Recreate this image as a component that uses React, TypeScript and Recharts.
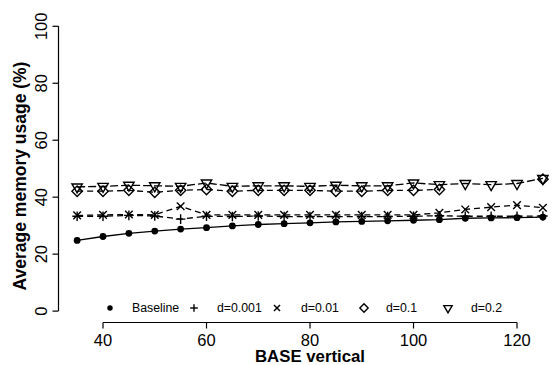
import React from 'react';
import { LineChart, Line, XAxis, YAxis, ReferenceLine, Legend } from 'recharts';

const xValues = [35, 40, 45, 50, 55, 60, 65, 70, 75, 80, 85, 90, 95, 100, 105, 110, 115, 120, 125];
const baseline = [24.8, 26.2, 27.3, 28.1, 28.8, 29.3, 29.9, 30.4, 30.7, 31.0, 31.3, 31.5, 31.7, 31.9, 32.1, 32.6, 32.7, 32.8, 33.0];
const d0001 = [33.3, 33.3, 33.6, 33.4, 32.3, 33.3, 33.2, 33.4, 33.2, 33.2, 33.2, 33.2, 33.2, 33.3, 33.5, 33.3, 33.3, 33.3, 33.4];
const d001 = [33.6, 33.8, 33.9, 33.8, 36.8, 33.8, 33.8, 33.8, 33.8, 33.8, 33.8, 33.8, 33.8, 33.8, 34.5, 35.7, 36.5, 37.2, 36.3];
const d01 = [42.1, 42.1, 42.4, 41.7, 42.4, 42.7, 42.1, 42.4, 42.4, 42.4, 42.1, 42.1, 42.4, 42.4, 42.7, null, null, null, 46.3];
const d02 = [43.6, 43.8, 44.2, 44.0, 43.8, 45.0, 43.8, 44.0, 44.0, 43.8, 44.2, 44.0, 44.0, 45.0, 44.4, 44.8, 44.4, 44.8, 46.6];

const seriesNames = ['Baseline', 'd=0.001', 'd=0.01', 'd=0.1', 'd=0.2'];
const seriesKeys = ['baseline', 'd0001', 'd001', 'd01', 'd02'];
const seriesShapes = ['dot', 'plus', 'cross', 'diamond', 'triangle'];
const seriesDash = [undefined, '6 4', '6 4', '6 4', '8 3'];

const xTicks = [40, 60, 80, 100, 120];
const yTicks = [0, 20, 40, 60, 80, 100];
const xLabel = 'BASE vertical';
const yLabel = 'Average memory usage (%)';

const data = xValues.map((x, i) => ({
  x,
  baseline: baseline[i],
  d0001: d0001[i],
  d001: d001[i],
  d01: d01[i],
  d02: d02[i],
}));

const FONT = '"Liberation Sans", Arial, Helvetica, sans-serif';

function Marker({ shape, cx, cy, s = 1 }: { shape: string; cx: number; cy: number; s?: number }) {
  const sw = 1.4;
  if (shape === 'dot') return <circle cx={cx} cy={cy} r={3.4 * s} fill="#000" stroke="none" />;
  if (shape === 'plus') {
    const h = 4.8 * s;
    return (
      <g stroke="#000" strokeWidth={sw}>
        <line x1={cx - h} y1={cy} x2={cx + h} y2={cy} />
        <line x1={cx} y1={cy - h} x2={cx} y2={cy + h} />
      </g>
    );
  }
  if (shape === 'cross') {
    const h = 3.8 * s;
    return (
      <g stroke="#000" strokeWidth={sw}>
        <line x1={cx - h} y1={cy - h} x2={cx + h} y2={cy + h} />
        <line x1={cx - h} y1={cy + h} x2={cx + h} y2={cy - h} />
      </g>
    );
  }
  if (shape === 'diamond') {
    const h = 5.2 * s;
    return (
      <path
        d={`M${cx},${cy - h}L${cx + h},${cy}L${cx},${cy + h}L${cx - h},${cy}Z`}
        fill="none"
        stroke="#000"
        strokeWidth={sw}
      />
    );
  }
  const w = 5.2 * s;
  return (
    <path
      d={`M${cx - w},${cy - 3 * s}L${cx + w},${cy - 3 * s}L${cx},${cy + 6 * s}Z`}
      fill="none"
      stroke="#000"
      strokeWidth={sw}
    />
  );
}

const makeDot = (shape: string, name: string) => (props: any) => {
  const { cx, cy, index, value } = props;
  if (cx == null || cy == null || value == null || Number.isNaN(cy)) return <g key={`${name}-${index}`} />;
  return (
    <g key={`${name}-${index}`}>
      <Marker shape={shape} cx={cx} cy={cy} />
    </g>
  );
};

const legendX = [
  { m: 110, t: 132 },
  { m: 194, t: 217 },
  { m: 277, t: 301 },
  { m: 364, t: 386 },
  { m: 448, t: 471 },
];

const renderLegend = () => (
  <svg width={555} height={20} style={{ display: 'block' }}>
    {seriesNames.map((n, i) => (
      <g key={n}>
        <Marker shape={seriesShapes[i]} cx={legendX[i].m} cy={10} s={0.8} />
        <text x={legendX[i].t} y={14.3} fontSize={12.3} fontFamily={FONT} fill="#000">
          {n}
        </text>
      </g>
    ))}
  </svg>
);

const XTick = (props: any) => {
  const { x, payload } = props;
  return (
    <text x={x} y={345.5} textAnchor="middle" fontSize={16.5} fontFamily={FONT} fill="#000">
      {payload.value}
    </text>
  );
};

const YTick = (props: any) => {
  const { y, payload } = props;
  return (
    <text
      transform={`translate(46.5, ${y}) rotate(-90)`}
      textAnchor="middle"
      fontSize={16.5}
      fontFamily={FONT}
      fill="#000"
    >
      {payload.value}
    </text>
  );
};

export default function App() {
  return (
    <div style={{ position: 'absolute', left: 0, top: 0, width: 555, height: 365, background: '#fff' }}>
      <LineChart
        width={555}
        height={365}
        data={data}
        margin={{ top: 14.9, right: 0, bottom: 0, left: 0 }}
      >
        <XAxis
          dataKey="x"
          type="number"
          domain={[31.4, 127.34]}
          ticks={xTicks}
          allowDataOverflow
          axisLine={false}
          tickLine={{ stroke: '#000', strokeWidth: 1.2 }}
          tickSize={6}
          tick={<XTick />}
          height={42.5}
          interval={0}
          label={() => (
            <text x={310} y={362} textAnchor="middle" fontSize={16.8} fontWeight="bold" fontFamily={FONT} fill="#000">
              {xLabel}
            </text>
          )}
        />
        <YAxis
          type="number"
          domain={[-4, 104]}
          ticks={yTicks}
          allowDataOverflow
          axisLine={false}
          tickLine={{ stroke: '#000', strokeWidth: 1.2 }}
          tickSize={6}
          tick={<YTick />}
          width={58.5}
          interval={0}
          label={() => (
            <text
              transform="translate(26, 176) rotate(-90)"
              textAnchor="middle"
              fontSize={17.5}
              fontWeight="bold"
              fontFamily={FONT}
              fill="#000"
            >
              {yLabel}
            </text>
          )}
        />
        <ReferenceLine
          segment={[{ x: 40, y: -4 }, { x: 120, y: -4 }]}
          stroke="#000"
          strokeWidth={1.2}
          ifOverflow="visible"
        />
        <ReferenceLine
          segment={[{ x: 31.4, y: 0 }, { x: 31.4, y: 100 }]}
          stroke="#000"
          strokeWidth={1.2}
          ifOverflow="visible"
        />
        <Legend
          layout="vertical"
          align="center"
          verticalAlign="middle"
          content={renderLegend}
          wrapperStyle={{ position: 'absolute', left: 0, top: 298, width: 555, height: 20 }}
        />
        {seriesKeys.map((k, i) => (
          <Line
            key={k}
            dataKey={k}
            name={seriesNames[i]}
            type="linear"
            stroke="#000"
            strokeWidth={1.3}
            strokeDasharray={seriesDash[i]}
            dot={makeDot(seriesShapes[i], k)}
            activeDot={false}
            isAnimationActive={false}
            connectNulls={false}
          />
        ))}
      </LineChart>
    </div>
  );
}
